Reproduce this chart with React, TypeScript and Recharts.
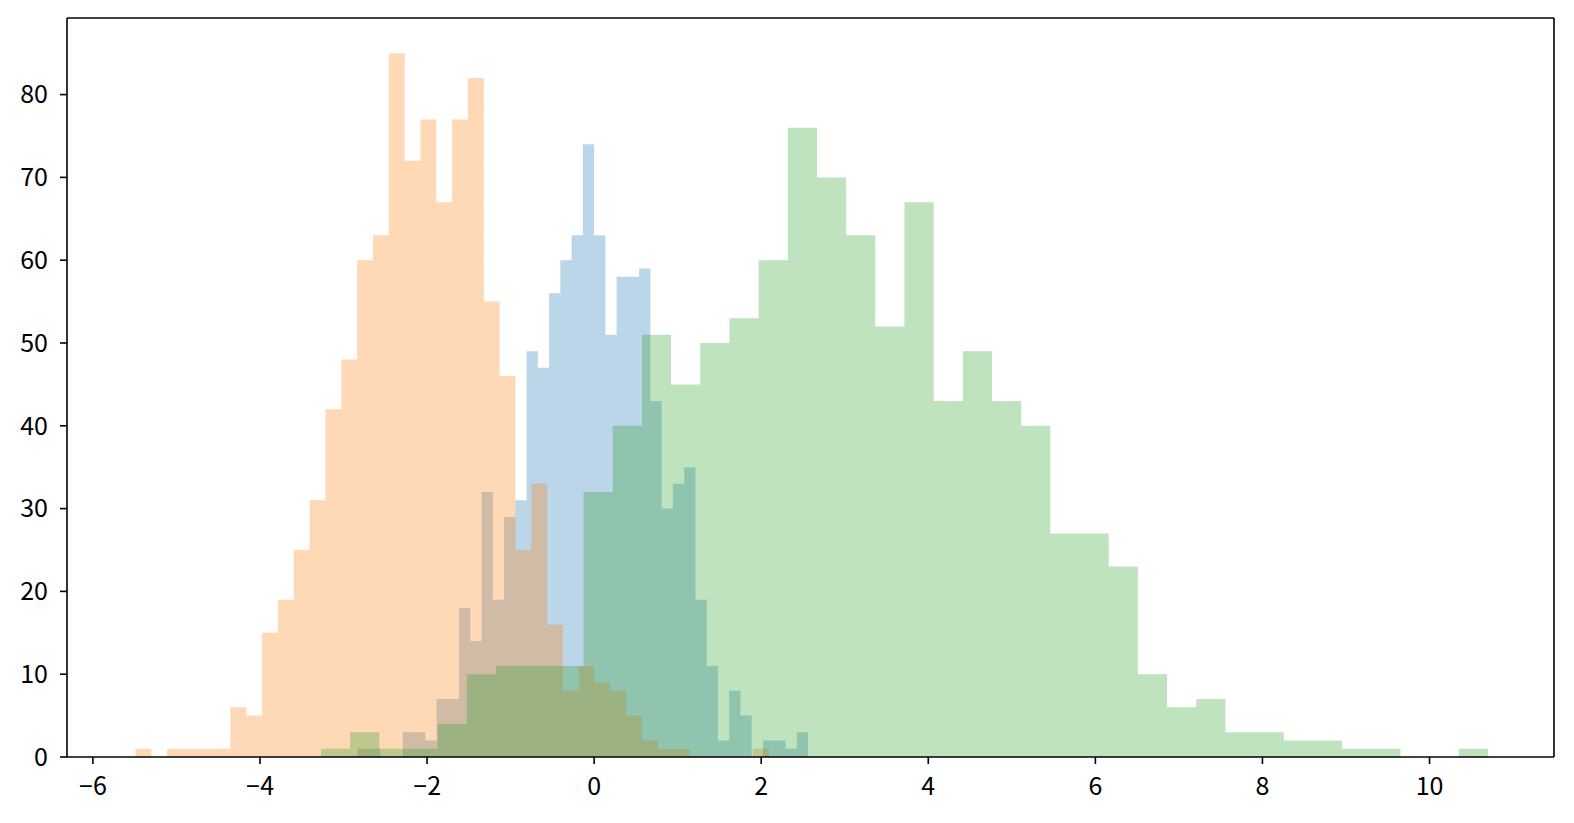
import { ComposedChart, Area, XAxis, YAxis, ReferenceLine } from 'recharts';

// three histograms, 40 bins each
const blueRange = [-2.83, 2.56];
const blueCounts = [1, 1, 0, 0, 3, 3, 2, 7, 7, 18, 14, 32, 19, 29, 31, 49, 47, 56, 60, 63, 74, 63, 51, 58, 58, 59, 43, 30, 33, 35, 19, 11, 2, 8, 5, 0, 2, 2, 1, 3];

const orangeRange = [-5.49, 2.09];
const orangeCounts = [1, 0, 1, 1, 1, 1, 6, 5, 15, 19, 25, 31, 42, 48, 60, 63, 85, 72, 77, 67, 77, 82, 55, 46, 25, 33, 16, 8, 11, 9, 8, 5, 2, 1, 1, 0, 0, 0, 0, 1];

const greenRange = [-3.27, 10.7];
const greenCounts = [1, 3, 1, 1, 4, 10, 11, 11, 11, 32, 40, 51, 45, 50, 53, 60, 76, 70, 63, 52, 67, 43, 49, 43, 40, 27, 27, 23, 10, 6, 7, 3, 3, 2, 2, 1, 1, 0, 0, 1];

const xTicks = [-6, -4, -2, 0, 2, 4, 6, 8, 10];
const yTicks = [0, 10, 20, 30, 40, 50, 60, 70, 80];
const xDomain = [-6.31, 11.49];
const yDomain = [0, 89.25];

const series = [
  { key: 'blue', range: blueRange, counts: blueCounts, color: '#1f77b4' },
  { key: 'orange', range: orangeRange, counts: orangeCounts, color: '#ff7f0e' },
  { key: 'green', range: greenRange, counts: greenCounts, color: '#2ca02c' },
];

const edgesOf = (range: number[], n: number) =>
  Array.from({ length: n + 1 }, (_, i) => range[0] + ((range[1] - range[0]) * i) / n);

// union of all bin edges, each series stepped at its own bins
const xs = Array.from(
  new Set(series.flatMap((s) => edgesOf(s.range, s.counts.length).map((v) => Math.round(v * 1e6) / 1e6)))
).sort((a, b) => a - b);

const data = xs.map((x) => {
  const row: Record<string, number | null> = { x };
  series.forEach((s) => {
    const [lo, hi] = s.range;
    const n = s.counts.length;
    if (x < lo - 1e-6 || x > hi + 1e-6) {
      row[s.key] = null;
    } else {
      const k = Math.min(n - 1, Math.floor(((x - lo) / (hi - lo)) * n + 1e-6));
      row[s.key] = s.counts[k];
    }
  });
  return row;
});

const FONT = '"Noto Sans CJK SC", "Noto Sans CJK JP", sans-serif';

const XTick = (props: any) => {
  const { x, y, payload } = props;
  const v = payload.value as number;
  return (
    <text x={x} y={y} dy="0.71em" textAnchor="middle" fill="#000" fontSize={25} fontFamily={FONT}>
      {v < 0 && <tspan fontFamily='"Noto Sans", sans-serif'>{'\u2212'}</tspan>}
      {String(Math.abs(v))}
    </text>
  );
};

const YTick = (props: any) => {
  const { x, y, payload } = props;
  return (
    <text x={x} y={y} dy="0.355em" textAnchor="end" fill="#000" fontSize={25} fontFamily={FONT}>
      {String(payload.value)}
    </text>
  );
};

export default function App() {
  return (
    <div style={{ position: 'fixed', left: 0, top: 0, width: 1574, height: 823, background: '#fff' }}>
      <ComposedChart width={1574} height={823} data={data} margin={{ top: 18, right: 20, bottom: 0, left: 0 }}>
        <XAxis
          dataKey="x"
          type="number"
          domain={xDomain}
          ticks={xTicks}
          allowDataOverflow
          height={66}
          tick={<XTick />}
          tickSize={7}
          tickMargin={13}
          axisLine={{ stroke: '#000', strokeWidth: 1.6 }}
          tickLine={{ stroke: '#000', strokeWidth: 1.6 }}
        />
        <YAxis
          type="number"
          domain={yDomain}
          ticks={yTicks}
          allowDataOverflow
          width={67}
          tick={<YTick />}
          tickSize={7}
          tickMargin={12}
          axisLine={{ stroke: '#000', strokeWidth: 1.6 }}
          tickLine={{ stroke: '#000', strokeWidth: 1.6 }}
        />
        {series.map((s) => (
          <Area
            key={s.key}
            dataKey={s.key}
            type="stepAfter"
            fill={s.color}
            fillOpacity={0.3}
            stroke="none"
            baseValue={0}
            dot={false}
            activeDot={false}
            isAnimationActive={false}
          />
        ))}
        <ReferenceLine y={yDomain[1]} stroke="#000" strokeWidth={1.6} />
        <ReferenceLine x={xDomain[1]} stroke="#000" strokeWidth={1.6} />
      </ComposedChart>
    </div>
  );
}
